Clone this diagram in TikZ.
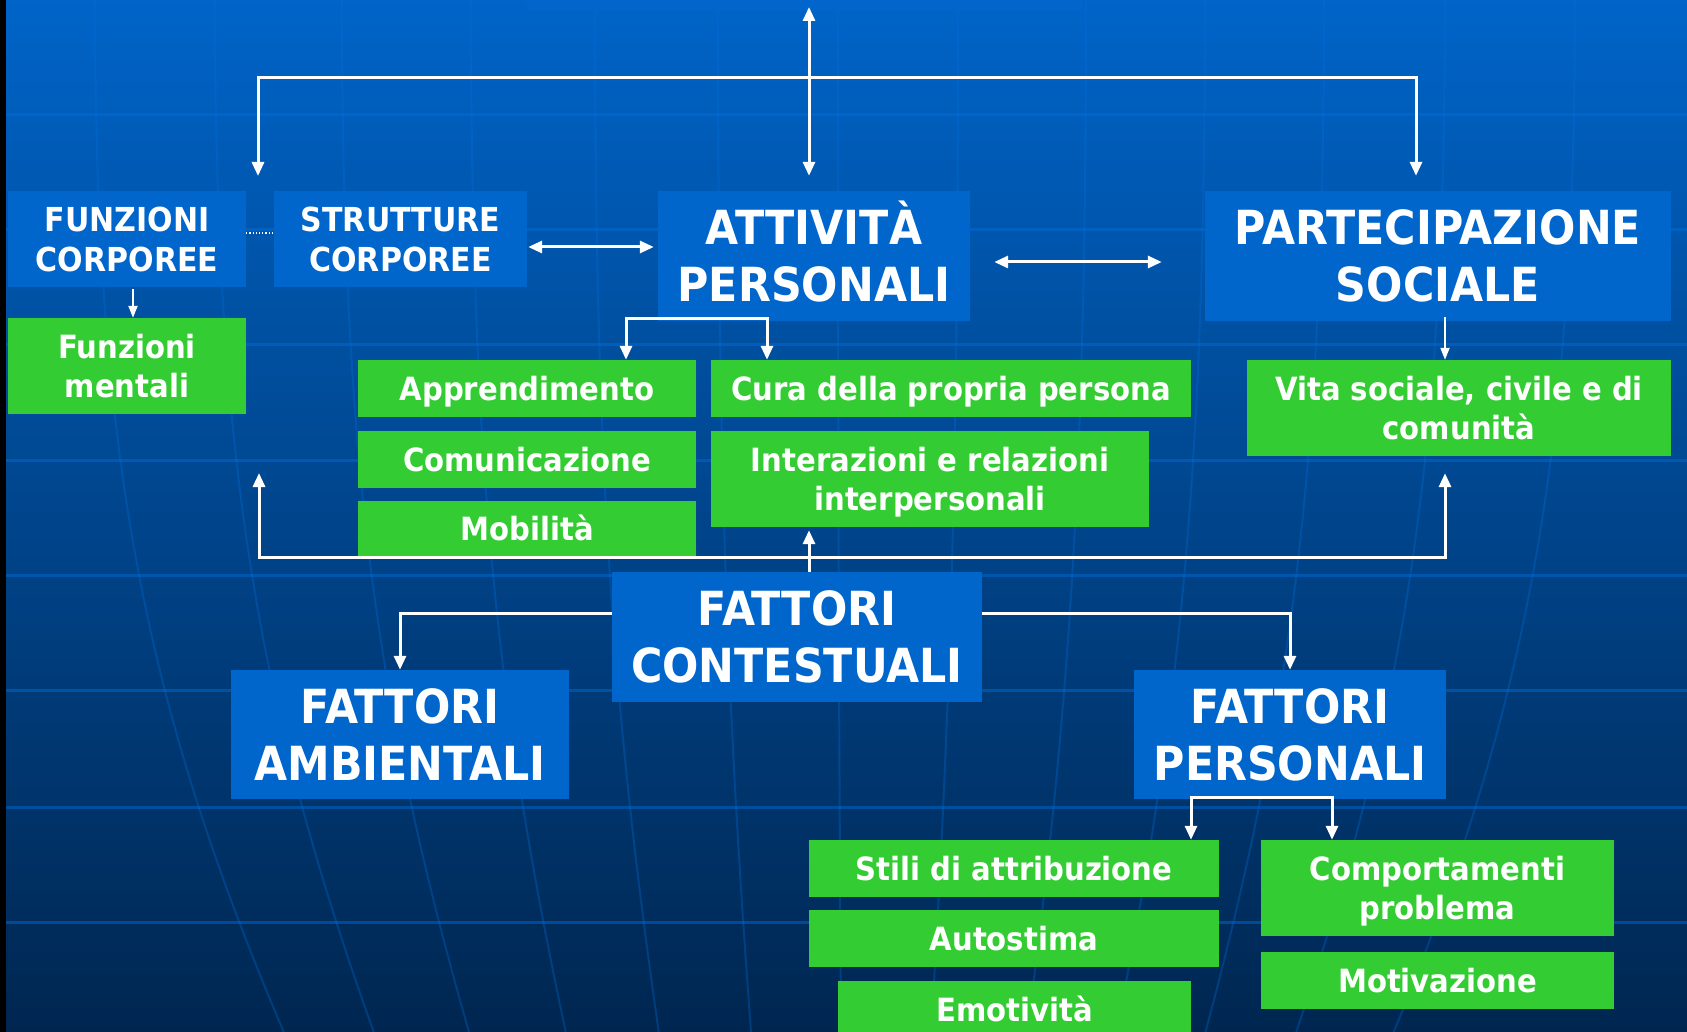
\documentclass[tikz,border=0pt]{standalone}
\usepackage{fontspec}
\newfontfamily\tah{DejaVu Sans}[FakeStretch=0.91]
\usetikzlibrary{arrows.meta,calc}
\definecolor{bgtop}{RGB}{0,100,200}
\definecolor{bgmid}{RGB}{0,72,145}
\definecolor{bgbot}{RGB}{0,38,80}
\definecolor{boxblue}{RGB}{0,102,204}
\definecolor{boxgreen}{RGB}{51,204,51}
\definecolor{gridline}{RGB}{0,112,222}
\newcommand\nd[1]{\raisebox{0pt}[\height][0pt]{#1}}
\begin{document}
\begin{tikzpicture}[x=1pt,y=-1pt,
  base/.style={inner sep=0pt, text=white, align=center},
  bluebig/.style={base, fill=boxblue, font=\tah\bfseries\fontsize{47}{57}\selectfont},
  bluemed/.style={base, fill=boxblue, font=\tah\bfseries\fontsize{33}{40}\selectfont},
  greenbox/.style={base, fill=boxgreen, font=\tah\bfseries\fontsize{32}{39}\selectfont},
  one/.style={text height=23pt, text depth=0pt},
  conn/.style={draw=white, line width=3pt, -{Triangle[length=14pt,width=12pt]}},
  dbl/.style={draw=white, line width=3pt, {Triangle[length=14pt,width=12pt]}-{Triangle[length=14pt,width=12pt]}},
  thinarr/.style={draw=white, line width=2pt, -{Triangle[length=12pt,width=9pt]}},
  grid/.style={draw=gridline, line width=3pt, opacity=0.45},
  meridian/.style={draw=gridline, line width=2pt, opacity=0.3}
]
\useasboundingbox (0,0) rectangle (1687,1032);
\clip (0,0) rectangle (1687,1032);
% background
\shade[top color=bgtop, middle color=bgmid, bottom color=bgbot] (0,0) rectangle (1687,1032);
\foreach \yy in {115,230,345,460,575,690,807,922}
  \draw[grid] (0,\yy) -- (1687,\yy);
\foreach \t in {95,215,342,471,595,718,838,958,1086,1205,1324,1445,1575}{
  \pgfmathsetmacro\b{850+(\t-850)*0.75}
  \pgfmathsetmacro\c{\t+(\b-\t)*0.25}
  \draw[meridian] (\t,0) .. controls (\t,450) and (\c,700) .. (\b,1032);
}
\fill[black] (0,0) rectangle (6,1032);

% boxes
\node[fill=boxblue, inner sep=0pt, minimum width=555, minimum height=60, anchor=south] (top) at (804.5,11) {};
\node[bluemed, minimum width=238, minimum height=96] (funz) at (127,239) {FUNZIONI\\CORPOREE};
\node[bluemed, minimum width=253, minimum height=96] (strut) at (400.5,239) {STRUTTURE\\CORPOREE};
\node[bluebig, minimum width=312, minimum height=130] (att) at (814,256) {ATTIVIT\smash{À}\\PERSONALI};
\node[bluebig, minimum width=466, minimum height=130] (part) at (1438,256) {PARTECIPAZIONE\\SOCIALE};
\node[greenbox, minimum width=238, minimum height=96] (fment) at (127,366) {Funzioni\\mentali};
\node[greenbox, one, minimum width=338, minimum height=57] (appr) at (527,388.5) {Apprendimento};
\node[greenbox, one, minimum width=338, minimum height=57] (comun) at (527,459.5) {Comunicazione};
\node[greenbox, one, minimum width=338, minimum height=56] (mobil) at (527,529) {Mobilità};
\node[greenbox, one, minimum width=480, minimum height=57] (cura) at (951,388.5) {Cura della propria persona};
\node[greenbox, minimum width=438, minimum height=96] (inter) at (930,479) {Interazioni e relazioni\\\nd{interpersonali}};
\node[greenbox, minimum width=424, minimum height=96] (vita) at (1459,408) {Vita sociale, civile e di\\comunità};
\node[bluebig, minimum width=370, minimum height=130] (cont) at (797,637) {FATTORI\\CONTESTUALI};
\node[bluebig, minimum width=338, minimum height=129] (amb) at (400,734.5) {FATTORI\\AMBIENTALI};
\node[bluebig, minimum width=312, minimum height=129] (pers) at (1290,734.5) {FATTORI\\PERSONALI};
\node[greenbox, one, minimum width=410, minimum height=57] (stili) at (1014,868.5) {Stili di attribuzione};
\node[greenbox, one, minimum width=410, minimum height=57] (auto) at (1014,938.5) {Autostima};
\node[greenbox, one, minimum width=353, minimum height=57] (emot) at (1014.5,1009.5) {Emotività};
\node[greenbox, minimum width=353, minimum height=96] (comp) at (1437.5,888) {Comportamenti\\\nd{problema}};
\node[greenbox, one, minimum width=353, minimum height=57] (motiv) at (1437.5,980.5) {Motivazione};

% top connectors
\coordinate (hubT) at (809,78);
\coordinate (bodyT) at (258,176);
\draw[dbl] ([xshift=4.5pt,yshift=4pt]top.south) -- ([xshift=-5pt,yshift=15pt]att.north);
\draw[conn] (hubT) -| (bodyT);
\draw[conn] (hubT) -| ([xshift=-22pt,yshift=15pt]part.north);

% body row
\draw[thinarr] ([xshift=6pt,yshift=-2pt]funz.south) -- ([xshift=6pt]fment.north);
\draw[white, line width=1.2pt, dotted] ([yshift=6pt]funz.east) -- ([yshift=6pt]funz.east -| strut.west);
\draw[dbl, shorten <=1pt, shorten >=4pt] ([yshift=-8pt]strut.east) -- ([yshift=-8pt]strut.east -| att.west);
\draw[dbl, shorten <=24pt, shorten >=43pt] ([yshift=-6pt]att.east) -- ([yshift=-6pt]att.east -| part.west);

% activity bracket
\coordinate (ab1) at ([xshift=-188pt,yshift=3pt]att.south);
\coordinate (ab2) at ([xshift=-47pt,yshift=3pt]att.south);
\draw[dbl] (ab1 |- appr.north) -- (ab1) -- (ab2) -- (ab2 |- cura.north);
\draw[thinarr] ([xshift=7pt,yshift=4pt]part.south) -- ([xshift=7pt]part.south |- vita.north);

% bottom bus
\coordinate (hubB) at (809,557);
\coordinate (busL) at (259,473);
\draw[conn] (hubB) -| (busL);
\draw[conn] (hubB) -| ([xshift=-14pt,yshift=-17pt]vita.south);
\draw[conn, shorten >=3pt] ([xshift=12pt]cont.north) -- ([xshift=12pt]cont.north |- inter.south);

% contextual factors
\draw[conn] ([yshift=24pt]cont.west) -| (amb.north);
\draw[conn] ([yshift=24pt]cont.east) -| (pers.north);
\coordinate (pb1) at ([xshift=-99pt,yshift=2pt]pers.south);
\coordinate (pb2) at ([xshift=42pt,yshift=2pt]pers.south);
\draw[dbl] (pb1 |- stili.north) -- (pb1) -- (pb2) -- (pb2 |- comp.north);
\end{tikzpicture}
\end{document}
